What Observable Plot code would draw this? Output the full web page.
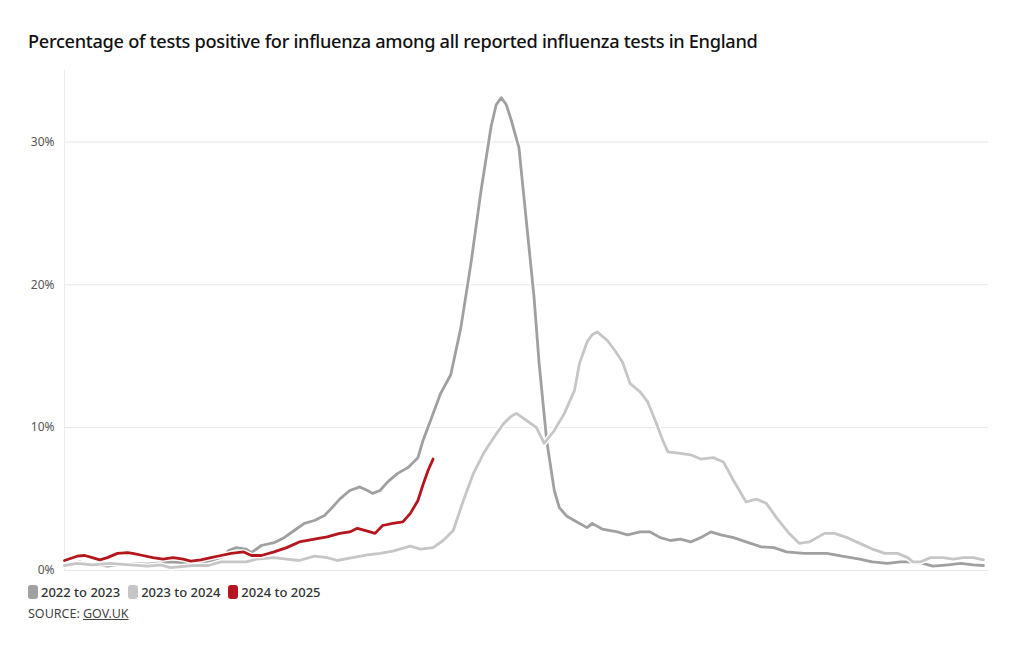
<!DOCTYPE html>
<html>
<head>
<meta charset="utf-8">
<script src="https://cdn.jsdelivr.net/npm/d3@7"></script>
<script src="https://cdn.jsdelivr.net/npm/@observablehq/plot@0.6"></script>
<style>
  html, body { margin: 0; padding: 0; background: #fff; }
  body { width: 1020px; height: 650px; position: relative; font-family: "Noto Sans", "Open Sans", sans-serif; }
  #title { position: absolute; left: 28px; top: 29px; font-size: 18.2px; font-weight: 500; color: #111; letter-spacing: -0.3px; white-space: nowrap; }
  #chart { position: absolute; left: 0; top: 60px; }
  #legend { position: absolute; left: 28px; top: 583px; display: flex; gap: 8px; font-size: 13px; font-weight: 500; color: #333; }
  #legend .item { display: flex; align-items: center; gap: 3px; }
  #legend .sw { width: 10px; height: 14px; border-radius: 3px; display: inline-block; }
  #source { position: absolute; left: 28px; top: 605px; font-size: 12.5px; color: #444; }
  #source u { text-decoration: underline; }
</style>
</head>
<body>
<div id="title">Percentage of tests positive for influenza among all reported influenza tests in England</div>
<div id="chart"></div>
<div id="legend"></div>
<div id="source">SOURCE: <u>GOV.UK</u></div>
<script>
// Season names and colours
const seasons = ["2022 to 2023", "2023 to 2024", "2024 to 2025"];
const seasonColors = ["#a0a0a0", "#c6c6c6", "#b5161e"];
const yTicks = [0, 10, 20, 30];

// 2022 to 2023: day of season, % positive
const days22 = [0,6,11,17,25,33,42,51,59,63,65,68,72,74,78,83,87,91,95,99,103,106,109,113,117,120,122,125,128,132,136,140,142,145,149,153,157,161,165,169,171,173,175,177,180,182,184,186,188,191,194,196,199,203,207,209,213,219,223,228,232,236,240,244,248,252,256,260,265,270,276,281,286,293,302,308,315,320,326,331,334,340,344,350,355,360,364];
const vals22 = [0.35,0.6,0.45,0.3,0.5,0.45,0.6,0.5,0.7,1.0,1.4,1.6,1.5,1.25,1.75,1.95,2.3,2.8,3.3,3.5,3.85,4.4,5.0,5.6,5.85,5.6,5.4,5.6,6.2,6.8,7.2,7.9,9.1,10.5,12.4,13.7,17,21.5,26.6,31.1,32.6,33.1,32.6,31.5,29.6,26.1,22.6,19.1,14.5,9.1,5.6,4.4,3.8,3.4,3.0,3.3,2.9,2.7,2.5,2.7,2.7,2.3,2.1,2.2,2.0,2.3,2.7,2.5,2.3,2.0,1.65,1.6,1.3,1.2,1.2,1.0,0.8,0.6,0.5,0.6,0.6,0.5,0.3,0.4,0.5,0.4,0.35];

// 2023 to 2024
const days23 = [0,5,11,18,26,33,38,42,51,57,62,67,72,76,83,88,93,99,104,108,114,120,125,130,137,141,146,150,154,158,162,166,170,174,177,179,183,187,190,194,198,202,204,207,209,211,215,218,221,224,228,231,234,237,239,244,248,252,257,261,265,270,274,278,282,287,291,295,301,305,310,315,320,325,330,334,336,339,343,348,352,356,360,364];
const vals23 = [0.35,0.5,0.4,0.5,0.4,0.3,0.4,0.2,0.35,0.35,0.6,0.6,0.6,0.8,0.9,0.8,0.7,1.0,0.9,0.7,0.9,1.1,1.2,1.35,1.7,1.5,1.6,2.1,2.8,4.9,6.8,8.2,9.3,10.3,10.8,11.0,10.5,10.0,8.9,9.8,11.0,12.6,14.5,16.0,16.5,16.7,16.1,15.4,14.6,13.1,12.5,11.8,10.5,9.1,8.3,8.2,8.1,7.8,7.9,7.6,6.3,4.8,5.0,4.7,3.7,2.6,1.9,2.0,2.6,2.6,2.3,1.9,1.5,1.2,1.2,0.9,0.6,0.6,0.9,0.9,0.8,0.9,0.9,0.75];

// 2024 to 2025
const days24 = [0,5,8,11,14,17,21,25,27,31,35,39,43,47,50,54,58,62,66,71,74,78,83,88,93,99,104,109,113,116,120,123,126,130,134,137,140,142,144,146];
const vals24 = [0.7,1.0,1.05,0.9,0.75,0.9,1.2,1.25,1.2,1.05,0.9,0.8,0.9,0.8,0.65,0.75,0.9,1.05,1.2,1.3,1.05,1.05,1.3,1.6,2.0,2.2,2.35,2.6,2.7,2.95,2.75,2.6,3.15,3.3,3.4,4.0,4.9,6.0,7.0,7.8];

const rows = (days, vals, s) => days.map((d, i) => ({day: d, value: vals[i], season: s}));
const data = [
  rows(days22, vals22, seasons[0]),
  rows(days23, vals23, seasons[1]),
  rows(days24, vals24, seasons[2])
];

const lineMarks = [];
data.forEach((d, i) => {
  lineMarks.push(Plot.line(d, {x: "day", y: "value", stroke: "#fff", strokeWidth: 5.5, strokeLinejoin: "round", curve: "linear"}));
  lineMarks.push(Plot.line(d, {x: "day", y: "value", stroke: seasonColors[i], strokeWidth: 2.8, strokeLinejoin: "round", curve: "linear"}));
});

const chart = Plot.plot({
  width: 1020,
  height: 520,
  marginLeft: 64,
  marginRight: 32,
  marginTop: 10,
  marginBottom: 10,
  style: {fontFamily: "'Noto Sans', sans-serif", fontSize: "12px", color: "#555", background: "transparent"},
  x: {domain: [0, 366], axis: null},
  y: {domain: [0, 35], ticks: yTicks, tickFormat: d => d + "%", tickSize: 0, tickPadding: 10, label: null},
  marks: [
    Plot.gridY(yTicks, {stroke: "#e6e6e6", strokeOpacity: 1, strokeWidth: 1}),
    Plot.ruleX([0], {stroke: "#ececec", strokeWidth: 1}),
    ...lineMarks
  ]
});
document.getElementById("chart").appendChild(chart);

const legend = document.getElementById("legend");
seasons.forEach((s, i) => {
  const item = document.createElement("span");
  item.className = "item";
  const sw = document.createElement("span");
  sw.className = "sw";
  sw.style.background = seasonColors[i];
  const t = document.createElement("span");
  t.textContent = s;
  item.appendChild(sw);
  item.appendChild(t);
  legend.appendChild(item);
});
</script>
</body>
</html>
